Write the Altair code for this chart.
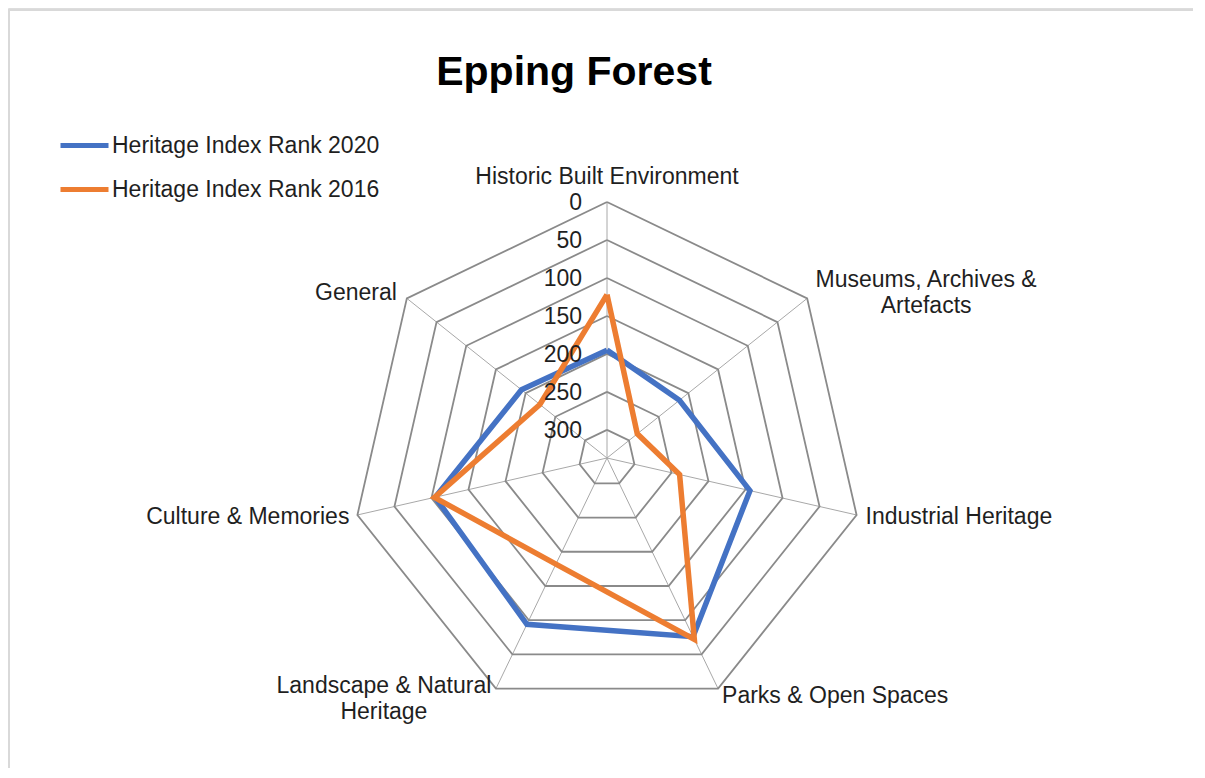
import math
import altair as alt
import pandas as pd

# ---------------- data ----------------
CATEGORIES = [
    "Historic Built Environment",
    "Museums, Archives & Artefacts",
    "Industrial Heritage",
    "Parks & Open Spaces",
    "Landscape & Natural Heritage",
    "Culture & Memories",
    "General",
]
CATEGORY_LABELS = [
    "Historic Built Environment",
    "Museums, Archives &\nArtefacts",
    "Industrial Heritage",
    "Parks & Open Spaces",
    "Landscape & Natural\nHeritage",
    "Culture & Memories",
    "General",
]
RANK_2020 = [195, 215, 144, 76, 94, 105, 193]
RANK_2016 = [122, 286, 239, 72, 182, 104, 224]
TICKS = [0, 50, 100, 150, 200, 250, 300]
AXIS_MAX = 337
SERIES = ["Heritage Index Rank 2020", "Heritage Index Rank 2016"]
COLORS = ["#4472C4", "#ED7D31"]
TITLE = "Epping Forest"

# ---------------- layout ----------------
W, H = 1185, 760
CX, CY, R = 599, 450, 256  # centre and outer radius in chart pixels
XDOM = [-CX / R, (W - CX) / R]
YDOM = [-(H - CY) / R, CY / R]
FONT = "Liberation Sans"
TXT = "#1f1f1f"
FS = 23
N = len(CATEGORIES)

xs = alt.Scale(domain=XDOM, nice=False, zero=False)
ys = alt.Scale(domain=YDOM, nice=False, zero=False)

# ---------------- tables ----------------
rows = []
for s, vals in zip(SERIES, [RANK_2020, RANK_2016]):
    for k in range(N + 1):
        rows.append({"series": s, "idx": k, "value": vals[k % N]})
series_df = pd.DataFrame(rows)

ring_df = pd.DataFrame(
    [{"tick": t, "idx": k, "value": t} for t in TICKS for k in range(N + 1)]
)
spoke_df = pd.DataFrame([{"idx": k, "value": 0} for k in range(N)])
label_df = pd.DataFrame([{"idx": k, "value": 0, "label": CATEGORY_LABELS[k]} for k in range(N)])
tick_df = pd.DataFrame([{"idx": 0, "value": t, "label": str(t)} for t in TICKS])


def polar(chart):
    return chart.transform_calculate(
        theta=f"datum.idx * 2 * PI / {N}",
        r=f"({AXIS_MAX} - datum.value) / {AXIS_MAX}",
    ).transform_calculate(
        px="datum.r * sin(datum.theta)",
        py="datum.r * cos(datum.theta)",
        cx="0",
        cy="0",
    )


X = alt.X("px:Q", scale=xs, axis=None)
Y = alt.Y("py:Q", scale=ys, axis=None)

rings = polar(alt.Chart(ring_df)).mark_line(
    color="#8a8a8a", strokeWidth=1.8
).encode(x=X, y=Y, detail="tick:N", order="idx:Q")

spokes = polar(alt.Chart(spoke_df)).mark_rule(
    color="#a8a8a8", strokeWidth=1
).encode(
    x=alt.X("cx:Q", scale=xs, axis=None),
    y=alt.Y("cy:Q", scale=ys, axis=None),
    x2="px:Q",
    y2="py:Q",
)

color = alt.Color(
    "series:N",
    scale=alt.Scale(domain=SERIES, range=COLORS),
    legend=alt.Legend(
        title=None,
        orient="none",
        legendX=50,
        legendY=111,
        symbolType="stroke",
        symbolSize=2304,
        symbolStrokeWidth=5,
        labelFontSize=FS,
        labelFont=FONT,
        labelColor=TXT,
        labelOffset=1,
        labelLimit=0,
        rowPadding=5,
        padding=0,
    ),
)


def series_layer(name):
    return polar(alt.Chart(series_df)).transform_filter(
        alt.datum.series == name
    ).mark_line(strokeWidth=5.5, strokeJoin="miter").encode(
        x=X, y=Y, order="idx:Q", color=color
    )


lines = [series_layer(s) for s in SERIES]

tick_labels = polar(alt.Chart(tick_df)).mark_text(
    align="right", baseline="middle", dx=-25, dy=1, fontSize=FS, font=FONT, color=TXT
).encode(x=X, y=Y, text="label:N")

# category label placement (align, dx, dy) per spoke
PLACE = [
    ("center", 0, -25),
    ("center", 119, -18),
    ("left", 9, 2),
    ("left", 4, 7),
    ("center", -112, -3),
    ("right", -8, 2),
    ("right", -10, -5),
]
cat_layers = []
for k, (al, dx, dy) in enumerate(PLACE):
    cat_layers.append(
        polar(alt.Chart(label_df))
        .transform_filter(alt.datum.idx == k)
        .mark_text(
            align=al, baseline="middle", dx=dx, dy=dy, fontSize=FS, font=FONT,
            color=TXT, lineBreak="\n", lineHeight=26,
        )
        .encode(x=X, y=Y, text="label:N")
    )

title = alt.Chart(pd.DataFrame({"t": [TITLE]})).mark_text(
    align="center", baseline="alphabetic", fontSize=41, fontWeight="bold",
    font=FONT, color="#000000",
).encode(x=alt.value(566), y=alt.value(77), text="t:N")

border_top = alt.Chart(pd.DataFrame({"a": [0]})).mark_rule(
    color="#d9d9d9", strokeWidth=2
).encode(x=alt.value(0), x2=alt.value(W), y=alt.value(2))
border_left = alt.Chart(pd.DataFrame({"a": [0]})).mark_rule(
    color="#d9d9d9", strokeWidth=2
).encode(x=alt.value(1), y=alt.value(2), y2=alt.value(H))

chart = alt.layer(
    border_top, border_left, spokes, rings, *lines, tick_labels, *cat_layers, title
).properties(
    width=W, height=H, autosize=alt.AutoSizeParams(type="none"), padding=0
).configure_view(stroke=None).configure(font=FONT)

chart.save("out.html", embed_options={"renderer": "svg", "actions": False})
